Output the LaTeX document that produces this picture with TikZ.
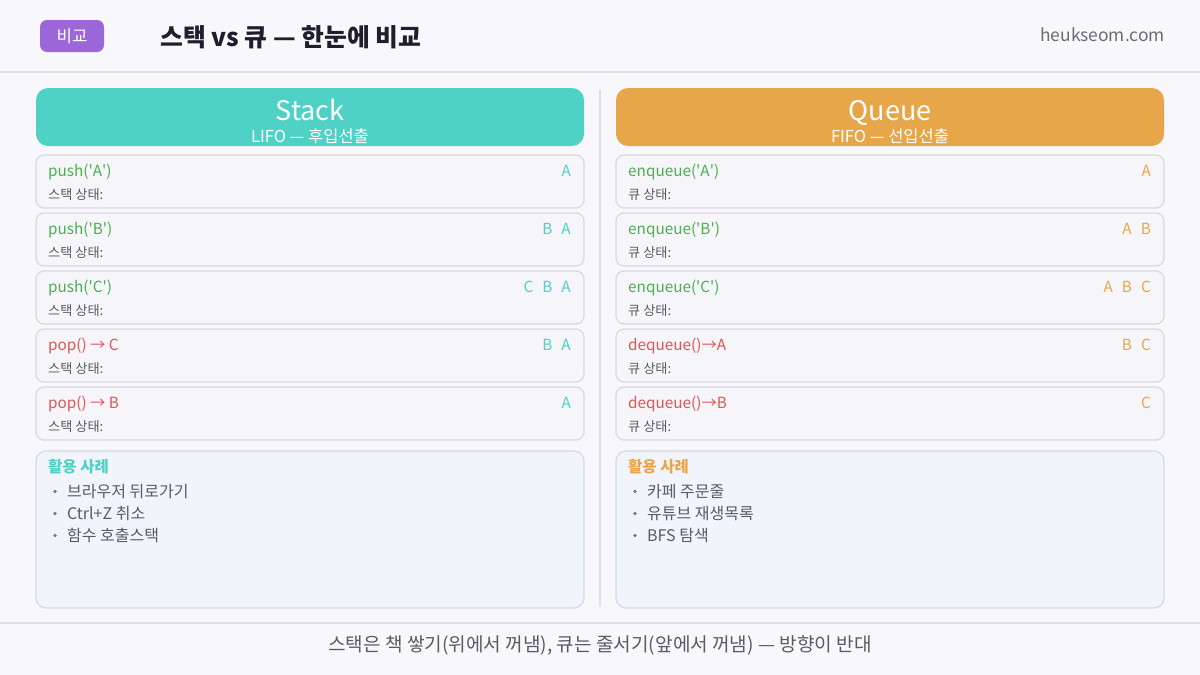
\documentclass[tikz,border=0pt]{standalone}
\usepackage{fontspec}
\setmainfont{Noto Sans CJK KR}
\usetikzlibrary{positioning,calc}

\definecolor{pagebg}{HTML}{F8F8FC}
\definecolor{rulegray}{HTML}{DEDEE4}
\definecolor{badgepurple}{HTML}{9B67D9}
\definecolor{titledark}{HTML}{1E1E2C}
\definecolor{sitegray}{HTML}{6B6B78}
\definecolor{stackteal}{HTML}{4FD1C5}
\definecolor{queueorange}{HTML}{E8A64A}
\definecolor{rowfill}{HTML}{F5F5FA}
\definecolor{rowline}{HTML}{D9D9E1}
\definecolor{pushgreen}{HTML}{4CB04F}
\definecolor{popred}{HTML}{E05555}
\definecolor{textgray}{HTML}{5A5A66}
\definecolor{usefill}{HTML}{F2F4FB}

\tikzset{
  headbox/.style={rounded corners=12pt, minimum width=548pt, minimum height=58pt, inner sep=0pt},
  rowbox/.style={draw=rowline, line width=1.3pt, fill=rowfill, rounded corners=8pt,
    minimum width=548pt, minimum height=53pt, inner sep=0pt, outer sep=0pt},
  usebox/.style={draw=rowline, line width=1.3pt, fill=usefill, rounded corners=10pt,
    minimum width=548pt, minimum height=157pt, inner sep=0pt, outer sep=0pt},
  optext/.style={anchor=base west, inner sep=0pt, font=\fontsize{15.3}{18}\selectfont},
  statetext/.style={anchor=base west, inner sep=0pt, text=textgray, font=\fontsize{13.2}{15}\selectfont},
  valtext/.style={anchor=base east, inner sep=0pt, font=\fontsize{15.3}{18}\selectfont},
  itemtext/.style={anchor=base west, inner sep=0pt, text=textgray, font=\fontsize{16}{19}\selectfont},
  dot/.style={circle, fill=textgray!80, inner sep=0pt, minimum size=3.6pt}
}

\begin{document}
\begin{tikzpicture}[x=1pt,y=-1pt]
\useasboundingbox[fill=pagebg] (0,0) rectangle (1200,675);

% top bar
\draw[rulegray, line width=1.2pt] (0,72) -- (1200,72);
\node[fill=badgepurple, rounded corners=7pt, minimum width=64pt, minimum height=32pt, inner sep=0pt,
  text=white, font=\fontsize{16.8}{19}\selectfont] (badge) at (72,36) {비교};
\node[anchor=base west, inner sep=0pt, text=titledark, font=\fontsize{24.8}{28}\selectfont\bfseries]
  (title) at (160,46) {스택 vs 큐 — 한눈에 비교};
\node[anchor=east, inner sep=0pt, text=sitegray, font=\fontsize{17.4}{20}\selectfont]
  (site) at (1165,35) {heukseom.com};

% column divider
\draw[rulegray, line width=1.5pt] (600,90) -- (600,607);

% stack column
\node[headbox, fill=stackteal] (stackhead) at (310,117) {};
\node[anchor=base, text=white, inner sep=0pt, font=\fontsize{27}{30}\selectfont] (stackname) at (310,120) {Stack};
\node[anchor=base, text=white, inner sep=0pt, font=\fontsize{16.5}{19}\selectfont] (stackrule) at (310,142) {LIFO — 후입선출};

\node[rowbox] (s1) at (310,181.5) {};
\node[optext, text=pushgreen] (s1op) at ($(s1.north west)+(12,21)$) {push(\textquotesingle A\textquotesingle)};
\node[statetext] (s1st) at ($(s1.north west)+(12,44)$) {스택 상태:};
\node[valtext, text=stackteal] (s1val) at ($(s1.north east)+(-13,21)$) {A};

\node[rowbox, below=5pt of s1] (s2) {};
\node[optext, text=pushgreen] (s2op) at ($(s2.north west)+(12,21)$) {push(\textquotesingle B\textquotesingle)};
\node[statetext] (s2st) at ($(s2.north west)+(12,44)$) {스택 상태:};
\node[valtext, text=stackteal] (s2val) at ($(s2.north east)+(-13,21)$) {B\hspace{9pt}A};

\node[rowbox, below=5pt of s2] (s3) {};
\node[optext, text=pushgreen] (s3op) at ($(s3.north west)+(12,21)$) {push(\textquotesingle C\textquotesingle)};
\node[statetext] (s3st) at ($(s3.north west)+(12,44)$) {스택 상태:};
\node[valtext, text=stackteal] (s3val) at ($(s3.north east)+(-13,21)$) {C\hspace{9pt}B\hspace{9pt}A};

\node[rowbox, below=5pt of s3] (s4) {};
\node[optext, text=popred] (s4op) at ($(s4.north west)+(12,21)$) {pop() → C};
\node[statetext] (s4st) at ($(s4.north west)+(12,44)$) {스택 상태:};
\node[valtext, text=stackteal] (s4val) at ($(s4.north east)+(-13,21)$) {B\hspace{9pt}A};

\node[rowbox, below=5pt of s4] (s5) {};
\node[optext, text=popred] (s5op) at ($(s5.north west)+(12,21)$) {pop() → B};
\node[statetext] (s5st) at ($(s5.north west)+(12,44)$) {스택 상태:};
\node[valtext, text=stackteal] (s5val) at ($(s5.north east)+(-13,21)$) {A};

\node[usebox, below=11pt of s5] (stackuse) {};
\node[optext, text=stackteal, font=\fontsize{15.5}{18}\selectfont\bfseries] (stackusehd) at ($(stackuse.north west)+(12,21)$) {활용 사례};
\node[dot] (su1d) at ($(stackuse.north west)+(19,40.5)$) {};
\node[itemtext] (su1) at ($(stackuse.north west)+(31,46)$) {브라우저 뒤로가기};
\node[dot] (su2d) at ($(stackuse.north west)+(19,62.5)$) {};
\node[itemtext] (su2) at ($(stackuse.north west)+(31,68)$) {Ctrl+Z 취소};
\node[dot] (su3d) at ($(stackuse.north west)+(19,84.5)$) {};
\node[itemtext] (su3) at ($(stackuse.north west)+(31,90)$) {함수 호출스택};

% queue column
\node[headbox, fill=queueorange] (queuehead) at (890,117) {};
\node[anchor=base, text=white, inner sep=0pt, font=\fontsize{27}{30}\selectfont] (queuename) at (890,120) {Queue};
\node[anchor=base, text=white, inner sep=0pt, font=\fontsize{16.5}{19}\selectfont] (queuerule) at (890,142) {FIFO — 선입선출};

\node[rowbox] (q1) at (890,181.5) {};
\node[optext, text=pushgreen] (q1op) at ($(q1.north west)+(12,21)$) {enqueue(\textquotesingle A\textquotesingle)};
\node[statetext] (q1st) at ($(q1.north west)+(12,44)$) {큐 상태:};
\node[valtext, text=queueorange] (q1val) at ($(q1.north east)+(-13,21)$) {A};

\node[rowbox, below=5pt of q1] (q2) {};
\node[optext, text=pushgreen] (q2op) at ($(q2.north west)+(12,21)$) {enqueue(\textquotesingle B\textquotesingle)};
\node[statetext] (q2st) at ($(q2.north west)+(12,44)$) {큐 상태:};
\node[valtext, text=queueorange] (q2val) at ($(q2.north east)+(-13,21)$) {A\hspace{9pt}B};

\node[rowbox, below=5pt of q2] (q3) {};
\node[optext, text=pushgreen] (q3op) at ($(q3.north west)+(12,21)$) {enqueue(\textquotesingle C\textquotesingle)};
\node[statetext] (q3st) at ($(q3.north west)+(12,44)$) {큐 상태:};
\node[valtext, text=queueorange] (q3val) at ($(q3.north east)+(-13,21)$) {A\hspace{9pt}B\hspace{9pt}C};

\node[rowbox, below=5pt of q3] (q4) {};
\node[optext, text=popred] (q4op) at ($(q4.north west)+(12,21)$) {dequeue()→A};
\node[statetext] (q4st) at ($(q4.north west)+(12,44)$) {큐 상태:};
\node[valtext, text=queueorange] (q4val) at ($(q4.north east)+(-13,21)$) {B\hspace{9pt}C};

\node[rowbox, below=5pt of q4] (q5) {};
\node[optext, text=popred] (q5op) at ($(q5.north west)+(12,21)$) {dequeue()→B};
\node[statetext] (q5st) at ($(q5.north west)+(12,44)$) {큐 상태:};
\node[valtext, text=queueorange] (q5val) at ($(q5.north east)+(-13,21)$) {C};

\node[usebox, below=11pt of q5] (queueuse) {};
\node[optext, text=queueorange, font=\fontsize{15.5}{18}\selectfont\bfseries] (queueusehd) at ($(queueuse.north west)+(12,21)$) {활용 사례};
\node[dot] (qu1d) at ($(queueuse.north west)+(19,40.5)$) {};
\node[itemtext] (qu1) at ($(queueuse.north west)+(31,46)$) {카페 주문줄};
\node[dot] (qu2d) at ($(queueuse.north west)+(19,62.5)$) {};
\node[itemtext] (qu2) at ($(queueuse.north west)+(31,68)$) {유튜브 재생목록};
\node[dot] (qu3d) at ($(queueuse.north west)+(19,84.5)$) {};
\node[itemtext] (qu3) at ($(queueuse.north west)+(31,90)$) {BFS 탐색};

% bottom note
\draw[rulegray, line width=1.2pt] (0,623) -- (1200,623);
\node[anchor=base, inner sep=0pt, text=textgray, font=\fontsize{19.1}{22}\selectfont] (note) at (600,651)
  {스택은 책 쌓기(위에서 꺼냄), 큐는 줄서기(앞에서 꺼냄) — 방향이 반대};
\end{tikzpicture}
\end{document}
